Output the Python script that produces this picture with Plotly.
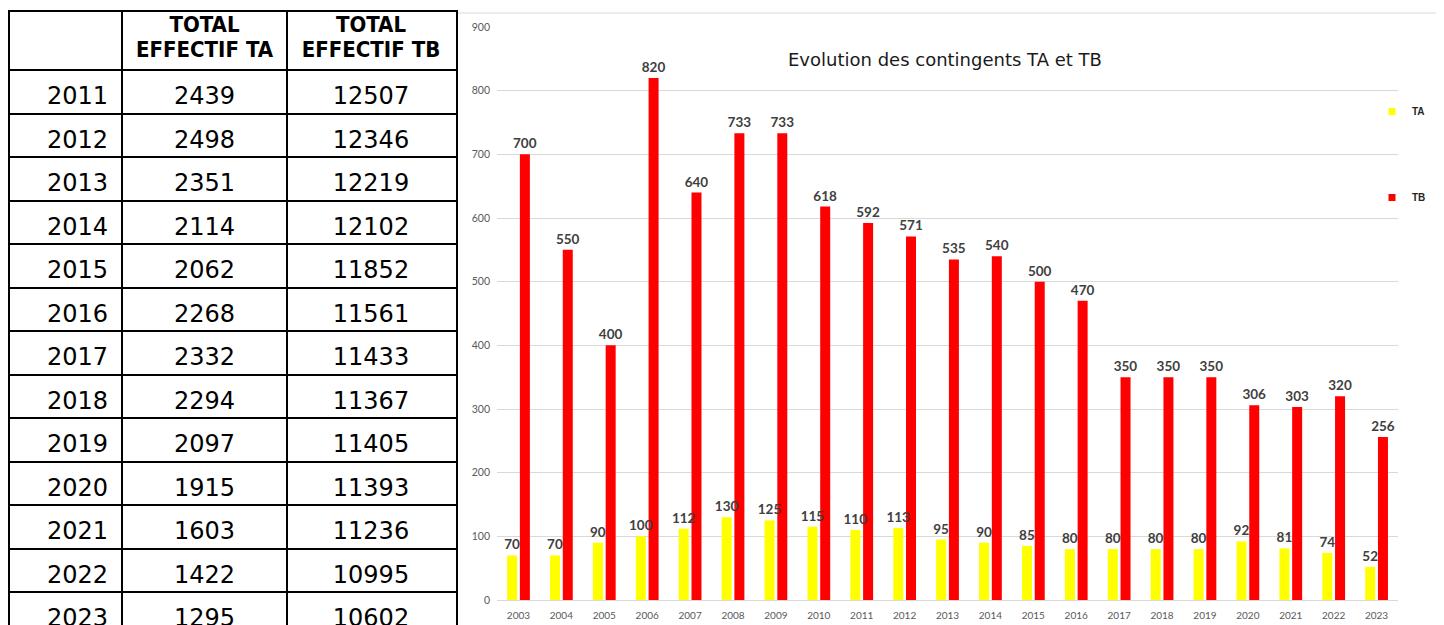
import plotly.graph_objects as go

# ---- chart data ----
years = ["2003", "2004", "2005", "2006", "2007", "2008", "2009", "2010", "2011", "2012",
         "2013", "2014", "2015", "2016", "2017", "2018", "2019", "2020", "2021", "2022", "2023"]
ta_values = [70, 70, 90, 100, 112, 130, 125, 115, 110, 113, 95, 90, 85, 80, 80, 80, 80, 92, 81, 74, 52]
tb_values = [700, 550, 400, 820, 640, 733, 733, 618, 592, 571, 535, 540, 500, 470, 350, 350, 350, 306, 303, 320, 256]
y_ticks = [0, 100, 200, 300, 400, 500, 600, 700, 800, 900]

# ---- table data ----
header_line1 = ["", "TOTAL", "TOTAL"]
header_line2 = ["", "EFFECTIF TA", "EFFECTIF TB"]
table_years = [2011, 2012, 2013, 2014, 2015, 2016, 2017, 2018, 2019, 2020, 2021, 2022, 2023]
table_ta = [2439, 2498, 2351, 2114, 2062, 2268, 2332, 2294, 2097, 1915, 1603, 1422, 1295]
table_tb = [12507, 12346, 12219, 12102, 11852, 11561, 11433, 11367, 11405, 11393, 11236, 10995, 10602]

W, H = 1444, 625
# table geometry (pixels inside the figure)
TABLE_L, TABLE_R = 2, 448
inner_col_edges = [114, 279]
col_text_x = [69.5, 196.5, 363]
HEADER_TOP, HEADER_BOTTOM, ROW_H = 4, 62, 43.5
n_rows = len(table_years)
inner_row_edges = [HEADER_BOTTOM] + [HEADER_BOTTOM + ROW_H * (k + 1) for k in range(n_rows)]
row_text_y = [HEADER_BOTTOM + ROW_H * k + 28 for k in range(n_rows)]

body_font = dict(family="DejaVu Sans, sans-serif", size=24, color="black")
head_font = dict(family="DejaVu Sans Condensed, sans-serif", size=22, color="black", weight="bold")
label_font = dict(family="Lato, Open Sans, sans-serif", size=13.5, color="#404040", weight="bold")

fig = go.Figure()

# ---- table drawn on its own axes ----
cols = [table_years, table_ta, table_tb]
for c, col in enumerate(cols):
    fig.add_trace(go.Scatter(
        x=[col_text_x[c]] * n_rows, y=row_text_y, text=[str(v) for v in col],
        mode="text", textposition="middle center", textfont=body_font,
        xaxis="x2", yaxis="y2", showlegend=False, hoverinfo="skip", cliponaxis=False,
    ))
for line_vals, ypos in ((header_line1, 18.5), (header_line2, 43.5)):
    fig.add_trace(go.Scatter(
        x=col_text_x[1:], y=[ypos] * 2, text=line_vals[1:],
        mode="text", textposition="middle center", textfont=head_font,
        xaxis="x2", yaxis="y2", showlegend=False, hoverinfo="skip", cliponaxis=False,
    ))

# ---- bar chart (TB first so that TA labels are drawn on top) ----
BAR_W = 0.233
fig.add_trace(go.Bar(
    name="TB", x=years, y=tb_values, marker_color="#FF0000", marker_line_width=0,
    width=BAR_W, offset=0.033,
    text=tb_values, textposition="outside", textfont=label_font, constraintext="none",
    cliponaxis=False, showlegend=False,
))
fig.add_trace(go.Bar(
    name="TA", x=years, y=ta_values, marker_color="#FFFF00", marker_line_width=0,
    width=BAR_W, offset=-0.264,
    text=ta_values, textposition="outside", textfont=label_font, constraintext="none",
    cliponaxis=False, showlegend=False,
))
# legend entries with small square keys
for name, color in (("TA", "#FFFF00"), ("TB", "#FF0000")):
    fig.add_trace(go.Scatter(
        x=[None], y=[None], mode="markers", name=name, legendgroup=name,
        marker=dict(symbol="square", size=7, color=color),
    ))

fig.update_layout(
    width=W, height=H,
    margin=dict(l=0, r=0, t=0, b=0, autoexpand=False),
    paper_bgcolor="white", plot_bgcolor="white",
    barmode="overlay",
    xaxis=dict(
        domain=[489 / W, 1390 / W], type="category", automargin=False,
        showgrid=False, showline=False, ticks="", ticklabelstandoff=8,
        tickfont=dict(family="Lato, Open Sans, sans-serif", size=10, color="#595959"),
    ),
    yaxis=dict(
        domain=[33 / H, 606 / H], range=[0, 900], tickvals=y_ticks, automargin=False,
        showgrid=True, gridcolor="#D9D9D9", gridwidth=1,
        zeroline=True, zerolinecolor="#D9D9D9", zerolinewidth=1,
        showline=False, ticks="", ticklabelstandoff=6,
        tickfont=dict(family="Lato, Open Sans, sans-serif", size=10.5, color="#595959"),
    ),
    xaxis2=dict(
        domain=[TABLE_L / W, TABLE_R / W], range=[TABLE_L, TABLE_R], anchor="y2", automargin=False,
        tickvals=inner_col_edges, showticklabels=False, ticks="",
        showgrid=True, gridcolor="black", gridwidth=2, zeroline=False,
        showline=True, mirror=True, linecolor="black", linewidth=2,
        fixedrange=True,
    ),
    yaxis2=dict(
        domain=[0, 1 - HEADER_TOP / H], range=[H, HEADER_TOP], anchor="x2", automargin=False,
        tickvals=inner_row_edges, showticklabels=False, ticks="",
        showgrid=True, gridcolor="black", gridwidth=2, zeroline=False,
        showline=True, mirror=True, linecolor="black", linewidth=2,
        fixedrange=True,
    ),
    legend=dict(
        x=1364 / W, y=1 - 89 / H, xanchor="left", yanchor="top",
        orientation="v", tracegroupgap=67, itemwidth=30,
        font=dict(family="Liberation Sans, Arial, sans-serif", size=10, color="#262626", weight="bold"),
        bgcolor="rgba(0,0,0,0)",
    ),
    annotations=[dict(
        text="Evolution des contingents TA et TB", x=937 / W, y=1 - 52 / H,
        xref="paper", yref="paper", showarrow=False, xanchor="center", yanchor="middle",
        font=dict(family="DejaVu Sans, sans-serif", size=18, color="#1a1a1a"),
    )],
    shapes=[dict(type="line", xref="paper", yref="paper", x0=450 / W, x1=1, y0=1 - 5 / H, y1=1 - 5 / H,
                 line=dict(color="#D9D9D9", width=1))],
)

fig.write_html("out.html")
